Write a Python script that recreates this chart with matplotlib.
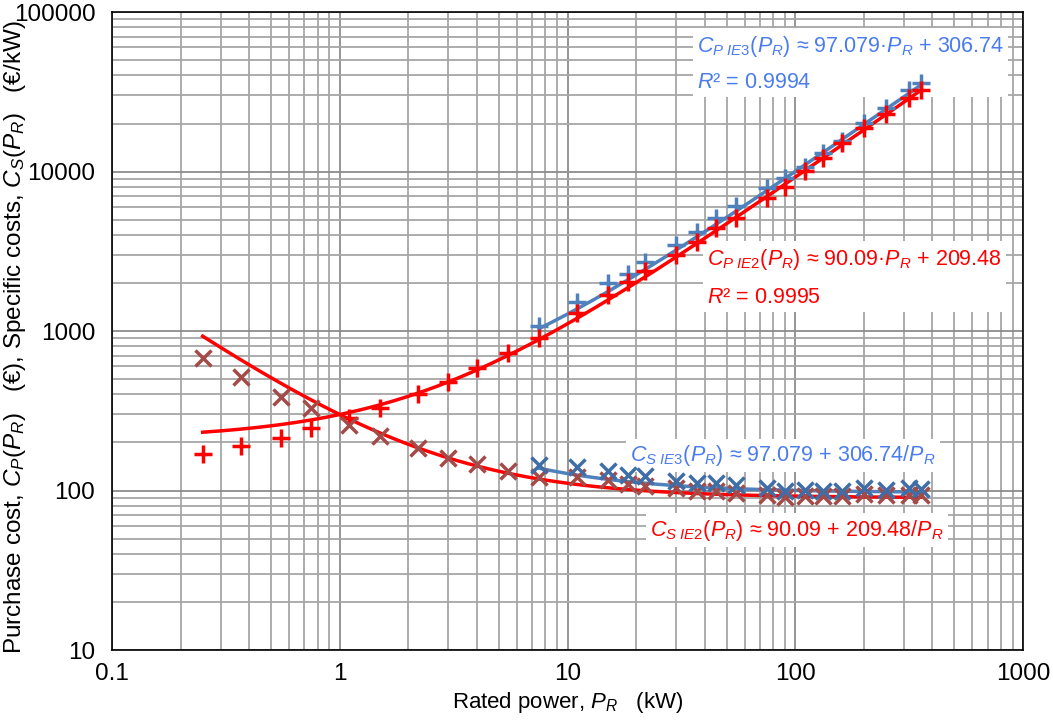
import numpy as np
import matplotlib
matplotlib.use('Agg')
import matplotlib.pyplot as plt
from matplotlib import font_manager
from matplotlib.ticker import FixedLocator, FixedFormatter, LogLocator, NullFormatter

plt.rcParams['font.family'] = ['Liberation Sans', 'DejaVu Sans']
plt.rcParams['mathtext.fontset'] = 'custom'
plt.rcParams['mathtext.rm'] = 'Liberation Sans'
plt.rcParams['mathtext.it'] = 'Liberation Sans:italic'

# IE2 motors (0.25 ... 355 kW)
power_ie2 = [0.25, 0.37, 0.55, 0.75, 1.1, 1.5, 2.2, 3, 4, 5.5, 7.5, 11, 15, 18.5, 22,
             30, 37, 45, 55, 75, 90, 110, 132, 160, 200, 250, 315, 355]
cp_ie2 = [170, 191, 212, 245, 283, 331, 405, 482, 583, 733, 910, 1297, 1683, 2029, 2376,
          2993, 3600, 4395, 5100, 6870, 8050, 10130, 12240, 15000, 18620, 23100, 28700, 32300]
cs_ie2 = [680, 515, 385, 327, 257, 220, 184, 161, 146, 133, 122, 121, 116, 110, 107,
          103, 100, 100, 97, 93.5, 90.5, 93, 93, 93, 95, 94, 94, 94]

# IE3 motors (7.5 ... 355 kW)
power_ie3 = [7.5, 11, 15, 18.5, 22, 30, 37, 45, 55, 75, 90, 110, 132, 160, 200, 250, 315, 355]
cp_ie3 = [1074, 1521, 2000, 2276, 2706, 3459, 4150, 5100, 6100, 7870, 9100, 10660, 13060,
          15530, 20140, 25000, 32400, 35900]
cs_ie3 = [144, 140, 132, 125, 124, 114, 111, 111, 109, 104, 100, 101, 100, 100, 103, 101, 104, 102]

# trendline coefficients shown on the chart
a_ie2, b_ie2 = 90.09, 209.48
a_ie3, b_ie3 = 97.079, 306.74

x_ticks = [0.1, 1, 10, 100, 1000]
x_labels = ['0.1', '1', '10', '100', '1000']
y_ticks = [10, 100, 1000, 10000, 100000]
y_labels = ['10', '100', '1000', '10000', '100000']

RED = '#ff0000'
RED_X = '#a34b48'
BLUE = '#4f81bd'
BLUE_X = '#3f6ea6'
BLUE_TXT = '#4a7cf0'

# narrow font for the long y label if it is there
try:
    font_manager.findfont('Liberation Sans Narrow', fallback_to_default=False)
    ylab_font = ['Liberation Sans Narrow', 'Liberation Sans']
except ValueError:
    ylab_font = ['Liberation Sans', 'DejaVu Sans']

fig = plt.figure(figsize=(10.53, 7.24), dpi=100)
ax = fig.add_axes([0.1064, 0.1022, 0.8651, 0.8812])
ax.set_xscale('log')
ax.set_yscale('log')
ax.set_xlim(0.1, 1000)
ax.set_ylim(10, 100000)

# fit curves
p2 = np.geomspace(power_ie2[0], power_ie2[-1], 200)
p3 = np.geomspace(power_ie3[0], power_ie3[-1], 200)
ax.plot(p2, a_ie2 * p2 + b_ie2, color=RED, lw=2.5, zorder=3)
ax.plot(p2, a_ie2 + b_ie2 / p2, color=RED, lw=2.5, zorder=3)
ax.plot(p3, a_ie3 * p3 + b_ie3, color=BLUE, lw=2.5, zorder=3)
ax.plot(p3, a_ie3 + b_ie3 / p3, color=BLUE, lw=2.5, zorder=3)

# data points
ax.plot(power_ie3, cp_ie3, ls='none', marker='+', ms=13, mew=2.5, color=BLUE, zorder=4)
ax.plot(power_ie2, cp_ie2, ls='none', marker='+', ms=13, mew=2.5, color=RED, zorder=4)
ax.plot(power_ie2, cs_ie2, ls='none', marker='x', ms=12, mew=2.5, color=RED_X, zorder=4)
ax.plot(power_ie3, cs_ie3, ls='none', marker='x', ms=12, mew=2.5, color=BLUE_X, zorder=4)

# axes, ticks, grid
ax.xaxis.set_major_locator(FixedLocator(x_ticks))
ax.xaxis.set_major_formatter(FixedFormatter(x_labels))
ax.yaxis.set_major_locator(FixedLocator(y_ticks))
ax.yaxis.set_major_formatter(FixedFormatter(y_labels))
ax.xaxis.set_minor_locator(LogLocator(base=10, subs=np.arange(2, 10)))
ax.yaxis.set_minor_locator(LogLocator(base=10, subs=np.arange(2, 10)))
ax.xaxis.set_minor_formatter(NullFormatter())
ax.yaxis.set_minor_formatter(NullFormatter())
ax.tick_params(which='both', length=0, labelsize=17.5)
ax.tick_params(axis='x', pad=9)
ax.tick_params(axis='y', pad=12)
ax.grid(which='major', color='#8c8c8c', lw=1.3)
ax.grid(which='minor', color='#a6a6a6', lw=1.3)
ax.set_axisbelow(True)
for s in ax.spines.values():
    s.set_color('black')
    s.set_linewidth(1.2)

ax.set_xlabel('Rated power, $P_R$   (kW)', fontsize=16, labelpad=4)
ylab = ax.set_ylabel('Purchase cost, $C_P(P_R)$   (€), Specific costs, $C_S(P_R)$   (€/kW)',
                     fontsize=16, family=ylab_font)
ax.yaxis.set_label_coords(-0.092, 0.49)
# fit the y label to the length it has in the reference (about 635 px)
fig.canvas.draw()
h = ylab.get_window_extent().height
ylab.set_fontsize(16 * 635 / h)

# trendline labels
box = dict(facecolor='white', edgecolor='none', pad=3)
ax.text(0.642, 0.966, '$C_{P\\ IE3}(P_R)$ ≈ 97.079·$P_R$ + 306.74\n$R$² = 0.9994',
        transform=ax.transAxes, color=BLUE_TXT, fontsize=15.5, va='top', ha='left',
        linespacing=1.85, bbox=box, zorder=2)
ax.text(0.653, 0.632, '$C_{P\\ IE2}(P_R)$ ≈ 90.09·$P_R$ + 209.48\n$R$² = 0.9995',
        transform=ax.transAxes, color=RED, fontsize=15.5, va='top', ha='left',
        linespacing=1.95, bbox=box, zorder=2)
ax.text(0.569, 0.305, '$C_{S\\ IE3}(P_R)$ ≈ 97.079 + 306.74/$P_R$',
        transform=ax.transAxes, color=BLUE_TXT, fontsize=15.5, va='center', ha='left',
        bbox=box, zorder=2)
ax.text(0.591, 0.188, '$C_{S\\ IE2}(P_R)$ ≈ 90.09 + 209.48/$P_R$',
        transform=ax.transAxes, color=RED, fontsize=15.5, va='center', ha='left',
        bbox=box, zorder=2)

fig.savefig('out.png', dpi=100)
